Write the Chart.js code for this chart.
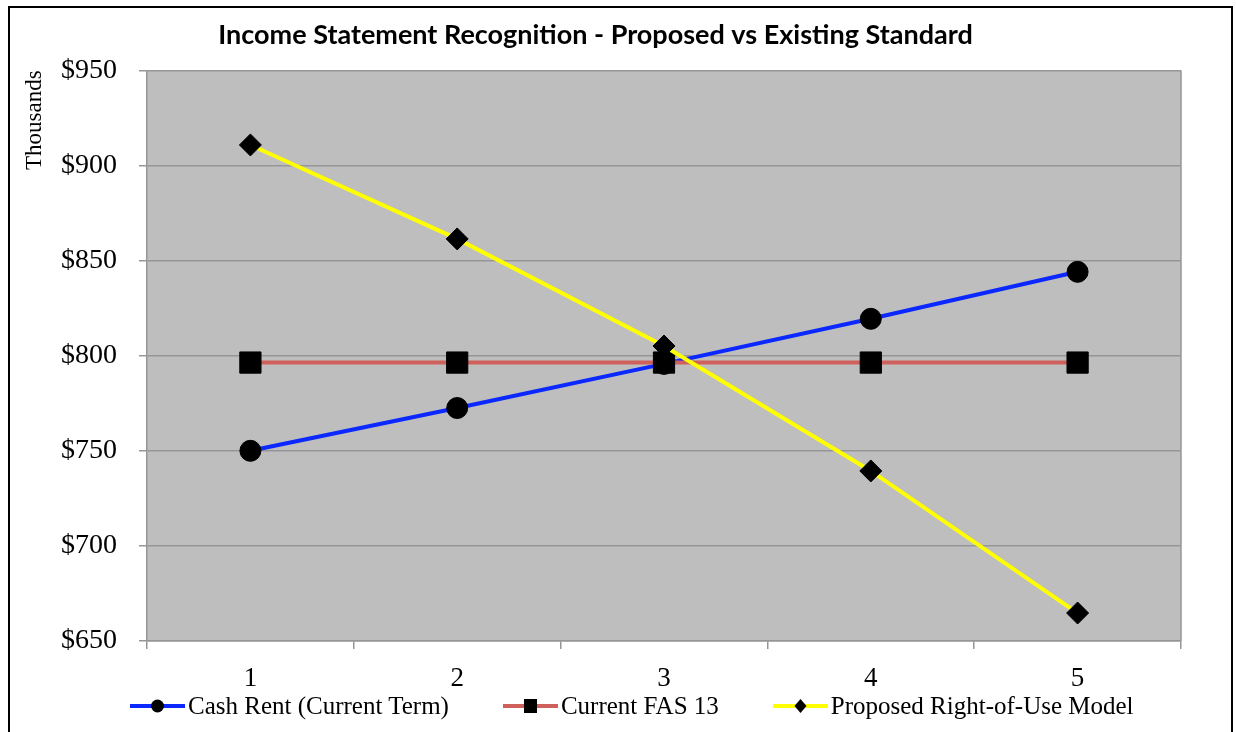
<!DOCTYPE html>
<html>
<head>
<meta charset="utf-8">
<script src="https://cdn.jsdelivr.net/npm/chart.js@4.4.1/dist/chart.umd.min.js"></script>
<style>
    body { margin: 0; background: #fff; width: 1236px; height: 732px; overflow: hidden; position: relative; }
    #frame { position: absolute; left: 8px; top: 6px; width: 1225px; height: 760px; border: 2px solid #000; box-sizing: border-box; }
    #wrap { position: absolute; left: 10px; top: 8px; width: 1220px; height: 690px; }
    #legend { position: absolute; left: 130px; top: 691px; height: 30px; display: flex; align-items: center; gap: 54px;
              font-family: 'Liberation Serif', serif; font-size: 25px; color: #000; }
    #legend .item { display: flex; align-items: center; white-space: nowrap; }
    #legend canvas { margin-right: 3px; }
</style>
</head>
<body>
<div id="frame"></div>
<div id="wrap"><canvas id="incomeChart"></canvas></div>
<div id="legend"></div>
<script>
// data (thousands of dollars)
const years = ['1', '2', '3', '4', '5'];
const cashRent = [750, 772.5, 795.7, 819.4, 844.1];
const fas13 = [796.4, 796.4, 796.4, 796.4, 796.4];
const proposedRou = [910.8, 861.4, 805.1, 739.4, 664.7];

const yMin = 650, yMax = 950, yStep = 50;

const serif = 'Liberation Serif';

const plotBackground = {
    id: 'plotBackground',
    beforeDraw(chart) {
        const { ctx, chartArea: a } = chart;
        ctx.save();
        ctx.fillStyle = '#bebebe';
        ctx.fillRect(a.left, a.top, a.right - a.left, a.bottom - a.top);
        ctx.strokeStyle = '#969696';
        ctx.lineWidth = 1.5;
        ctx.beginPath();
        ctx.moveTo(a.right, a.top);
        ctx.lineTo(a.right, a.bottom);
        ctx.stroke();
        ctx.restore();
    }
};

const ctx = document.getElementById('incomeChart').getContext('2d');
const chart = new Chart(ctx, {
    type: 'line',
    data: {
        labels: years,
        datasets: [
            { label: 'Cash Rent (Current Term)', data: cashRent, borderColor: '#0a28ff', pointStyle: 'circle',
              pointRadius: 10.5, order: 3 },
            { label: 'Current FAS 13', data: fas13, borderColor: '#cf605b', pointStyle: 'rect',
              pointRadius: 15, order: 2 },
            { label: 'Proposed Right-of-Use Model', data: proposedRou, borderColor: '#ffff00', pointStyle: 'rectRot',
              pointRadius: 11, order: 1 }
        ].map(d => ({ ...d, borderWidth: 4, tension: 0, pointBackgroundColor: '#000',
                      pointBorderColor: '#000', pointBorderWidth: 1, pointHoverRadius: d.pointRadius }))
    },
    options: {
        responsive: true,
        maintainAspectRatio: false,
        animation: false,
        layout: { padding: { top: 0, right: 49, bottom: 0, left: 0 } },
        plugins: {
            legend: { display: false },
            tooltip: { enabled: false },
            title: {
                display: true,
                text: 'Income Statement Recognition - Proposed vs Existing Standard',
                color: '#000',
                font: { family: 'Lato', size: 27, weight: 'bold' },
                padding: { top: 11, bottom: 19 }
            }
        },
        scales: {
            x: {
                offset: true,
                afterFit: s => { s.height = 57; },
                grid: { offset: true, drawOnChartArea: false, tickLength: 8, color: '#969696', lineWidth: 1.5 },
                border: { color: '#969696', width: 1.5 },
                ticks: { color: '#000', padding: 14, font: { family: serif, size: 27 } }
            },
            y: {
                min: yMin,
                max: yMax,
                afterFit: s => { s.width = 137; },
                grid: { color: '#969696', lineWidth: 1.5, tickLength: 8, tickColor: '#969696' },
                border: { color: '#969696', width: 1.5 },
                ticks: { stepSize: yStep, color: '#000', padding: 22, font: { family: serif, size: 28 },
                         callback: v => '$' + v },
                title: { display: true, text: 'Thousands', align: 'end', color: '#000',
                         font: { family: serif, size: 23 }, padding: { top: 11, bottom: 0 } }
            }
        }
    },
    plugins: [plotBackground]
});

// legend - line sample with the series marker, then the label
function drawSample(c, ds) {
    const g = c.getContext('2d');
    const mid = c.height / 2;
    g.strokeStyle = ds.borderColor;
    g.lineWidth = 4;
    g.beginPath();
    g.moveTo(0, mid);
    g.lineTo(c.width, mid);
    g.stroke();
    g.fillStyle = '#000';
    const cx = c.width / 2;
    g.beginPath();
    if (ds.pointStyle === 'circle') {
        g.arc(cx, mid, 6.5, 0, Math.PI * 2);
    } else if (ds.pointStyle === 'rect') {
        g.rect(cx - 6.5, mid - 7, 13, 14);
    } else {
        g.moveTo(cx, mid - 7); g.lineTo(cx + 6, mid); g.lineTo(cx, mid + 7); g.lineTo(cx - 6, mid);
        g.closePath();
    }
    g.fill();
}

const legend = document.getElementById('legend');
chart.data.datasets.forEach(ds => {
    const item = document.createElement('div');
    item.className = 'item';
    const c = document.createElement('canvas');
    c.width = 55;
    c.height = 20;
    drawSample(c, ds);
    const span = document.createElement('span');
    span.textContent = ds.label;
    item.appendChild(c);
    item.appendChild(span);
    legend.appendChild(item);
});
</script>
</body>
</html>
